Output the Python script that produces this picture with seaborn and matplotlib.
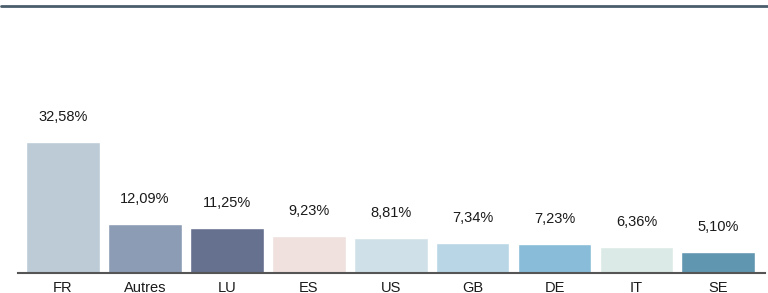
import matplotlib
matplotlib.use("Agg")
import matplotlib.pyplot as plt
import seaborn as sns
import pandas as pd
from matplotlib.lines import Line2D

categories = ["FR", "Autres", "LU", "ES", "US", "GB", "DE", "IT", "SE"]
values = [32.58, 12.09, 11.25, 9.23, 8.81, 7.34, 7.23, 6.36, 5.10]
colors = ["#bccbd6", "#8c9cb4", "#65718f", "#f0e1de", "#d0e0e8",
          "#b8d6e6", "#88bcd8", "#dbeae6", "#6096b0"]

sns.set_theme(style="white")
plt.rcParams['font.family'] = ['Liberation Sans', 'DejaVu Sans']

df = pd.DataFrame({"cat": categories, "val": values})

fig = plt.figure(figsize=(7.68, 2.93), dpi=100)
ax = fig.add_axes([18/768, (293-273)/293, (765-18)/768, (273-6)/293])
sns.barplot(data=df, x="cat", y="val", hue="cat", palette=colors,
            width=0.9, legend=False, ax=ax, saturation=1)

for i, v in enumerate(values):
    ax.annotate(f"{v:.2f}%".replace(".", ","), (i, v), xytext=(0, 13),
                textcoords="offset points", ha="center", va="bottom",
                fontsize=10.5, color="#1a1a1a")

ax.set_xlim(-0.55, 8.57)
ax.set_ylim(0, 66.4)
ax.set_xlabel("")
ax.set_ylabel("")
ax.set_yticks([])
for s in ["top", "left", "right"]:
    ax.spines[s].set_visible(False)
ax.spines["bottom"].set_color("#555555")
ax.spines["bottom"].set_linewidth(1.5)
ax.tick_params(axis="x", length=0, pad=5.5, labelsize=10.5, labelcolor="#1a1a1a")

fig.add_artist(Line2D([1/768, 1.0], [1 - 5.5/293, 1 - 5.5/293],
                      transform=fig.transFigure, color="#4a5e6c", linewidth=2))

fig.savefig("out.png", dpi=100)
